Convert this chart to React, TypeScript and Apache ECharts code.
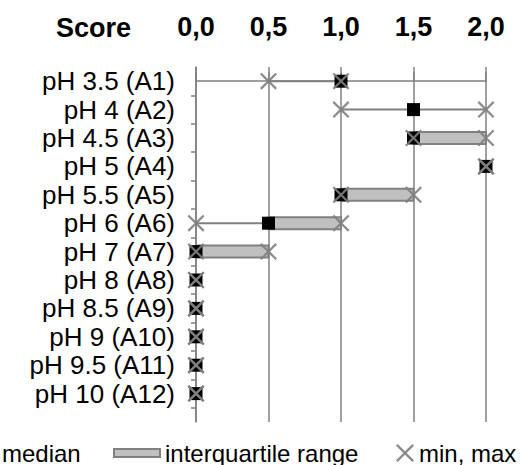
import React, { useEffect, useRef } from "react";
import * as echarts from "echarts";

const categories = [
  "pH 3.5 (A1)",
  "pH 4 (A2)",
  "pH 4.5 (A3)",
  "pH 5 (A4)",
  "pH 5.5 (A5)",
  "pH 6 (A6)",
  "pH 7 (A7)",
  "pH 8 (A8)",
  "pH 8.5 (A9)",
  "pH 9 (A10)",
  "pH 9.5 (A11)",
  "pH 10 (A12)",
];
const minVals = [0.5, 1.0, 1.5, 2.0, 1.0, 0.0, 0.0, 0.0, 0.0, 0.0, 0.0, 0.0];
const q1Vals = [1.0, 1.5, 1.5, 2.0, 1.0, 0.5, 0.0, 0.0, 0.0, 0.0, 0.0, 0.0];
const medianVals = [1.0, 1.5, 1.5, 2.0, 1.0, 0.5, 0.0, 0.0, 0.0, 0.0, 0.0, 0.0];
const q3Vals = [1.0, 1.5, 2.0, 2.0, 1.5, 1.0, 0.5, 0.0, 0.0, 0.0, 0.0, 0.0];
const maxVals = [1.0, 2.0, 2.0, 2.0, 1.5, 1.0, 0.5, 0.0, 0.0, 0.0, 0.0, 0.0];

const FONT = '"Liberation Sans", Arial, sans-serif';
const GRAY = "#808080";
const X_PATH =
  "path://M0,1.5L1.5,0L8,6.5L14.5,0L16,1.5L9.5,8L16,14.5L14.5,16L8,9.5L1.5,16L0,14.5L6.5,8Z";

export default function App() {
  const ref = useRef<HTMLDivElement>(null);
  useEffect(() => {
    if (!ref.current) return;
    const chart = echarts.init(ref.current, null, { renderer: "svg" });

    const rows = categories.map((_, i) => i);
    const whiskerData = rows
      .filter((i) => minVals[i] < maxVals[i])
      .map((i) => [minVals[i], maxVals[i], i]);
    const iqrData = rows
      .filter((i) => q1Vals[i] < q3Vals[i])
      .map((i) => [q1Vals[i], q3Vals[i], i]);
    const medianData = rows.map((i) => [medianVals[i], i]);
    const minMaxData = rows.flatMap((i) => [
      [minVals[i], i],
      [maxVals[i], i],
    ]);

    const option: any = {
      animation: false,
      title: {
        text: "Score",
        left: 51,
        top: 9,
        textStyle: { fontFamily: FONT, fontSize: 27, fontWeight: "bold", color: "#000" },
      },
      grid: { left: 196, right: 39, top: 67, bottom: 43 },
      xAxis: {
        type: "value",
        position: "top",
        min: 0,
        max: 2,
        interval: 0.5,
        axisLine: { show: true, lineStyle: { color: GRAY, width: 1.5 } },
        axisTick: { show: true, length: 9, lineStyle: { color: GRAY, width: 1.5 } },
        splitLine: { show: true, lineStyle: { color: GRAY, width: 1.5 } },
        axisLabel: {
          margin: 27,
          fontFamily: FONT,
          fontSize: 27,
          fontWeight: "bold",
          color: "#000",
          formatter: (v: number) => v.toFixed(1).replace(".", ","),
        },
      },
      yAxis: {
        type: "value",
        inverse: true,
        min: -0.5,
        max: 12,
        axisLine: { show: true, lineStyle: { color: GRAY, width: 1.5 } },
        axisTick: {
          show: true,
          length: 5,
          lineStyle: { color: GRAY, width: 1.5 },
          customValues: rows.map((i) => i + 0.5),
        },
        splitLine: { show: false },
        axisLabel: {
          margin: 21,
          fontFamily: FONT,
          fontSize: 26,
          color: "#000",
          customValues: rows,
          formatter: (v: number) => categories[Math.round(v)] ?? "",
        },
      },
      legend: [
        {
          data: [{ name: "median", icon: "rect" }],
          left: -16,
          top: 441,
          padding: 0,
          itemWidth: 13,
          itemHeight: 13,
          textStyle: { fontFamily: FONT, fontSize: 24, color: "#000" },
        },
        {
          data: [{ name: "interquartile range", icon: "rect" }],
          left: 113,
          top: 441,
          padding: 0,
          itemWidth: 46,
          itemHeight: 8,
          textStyle: { fontFamily: FONT, fontSize: 24, color: "#000" },
        },
        {
          data: [{ name: "min, max", icon: X_PATH }],
          left: 396,
          top: 441,
          padding: 0,
          itemWidth: 18,
          itemHeight: 18,
          textStyle: { fontFamily: FONT, fontSize: 24, color: "#000" },
        },
      ],
      series: [
        {
          name: "whisker",
          type: "custom",
          z: 2,
          encode: { x: [0, 1], y: 2 },
          data: whiskerData,
          renderItem: (_p: any, api: any) => {
            const s = api.coord([api.value(0), api.value(2)]);
            const e = api.coord([api.value(1), api.value(2)]);
            return {
              type: "line",
              shape: { x1: s[0], y1: s[1], x2: e[0], y2: e[1] },
              style: { stroke: GRAY, lineWidth: 2 },
            };
          },
        },
        {
          name: "interquartile range",
          type: "custom",
          z: 3,
          encode: { x: [0, 1], y: 2 },
          itemStyle: { color: "#c0c0c0", borderColor: GRAY, borderWidth: 2 },
          data: iqrData,
          renderItem: (_p: any, api: any) => {
            const s = api.coord([api.value(0), api.value(2)]);
            const e = api.coord([api.value(1), api.value(2)]);
            return {
              type: "rect",
              shape: { x: s[0], y: s[1] - 6, width: e[0] - s[0], height: 12 },
              style: { fill: "#c0c0c0", stroke: GRAY, lineWidth: 2 },
            };
          },
        },
        {
          name: "median",
          type: "scatter",
          z: 4,
          symbol: "rect",
          symbolSize: 13,
          itemStyle: { color: "#000", opacity: 1 },
          data: medianData,
        },
        {
          name: "min, max",
          type: "scatter",
          z: 5,
          symbol: X_PATH,
          symbolSize: 17,
          itemStyle: { color: GRAY, opacity: 0.9 },
          data: minMaxData,
        },
      ],
    };
    chart.setOption(option);
    return () => chart.dispose();
  }, []);
  return (
    <div
      ref={ref}
      style={{ position: "fixed", left: 0, top: 0, width: 525, height: 465, background: "#fff" }}
    />
  );
}
